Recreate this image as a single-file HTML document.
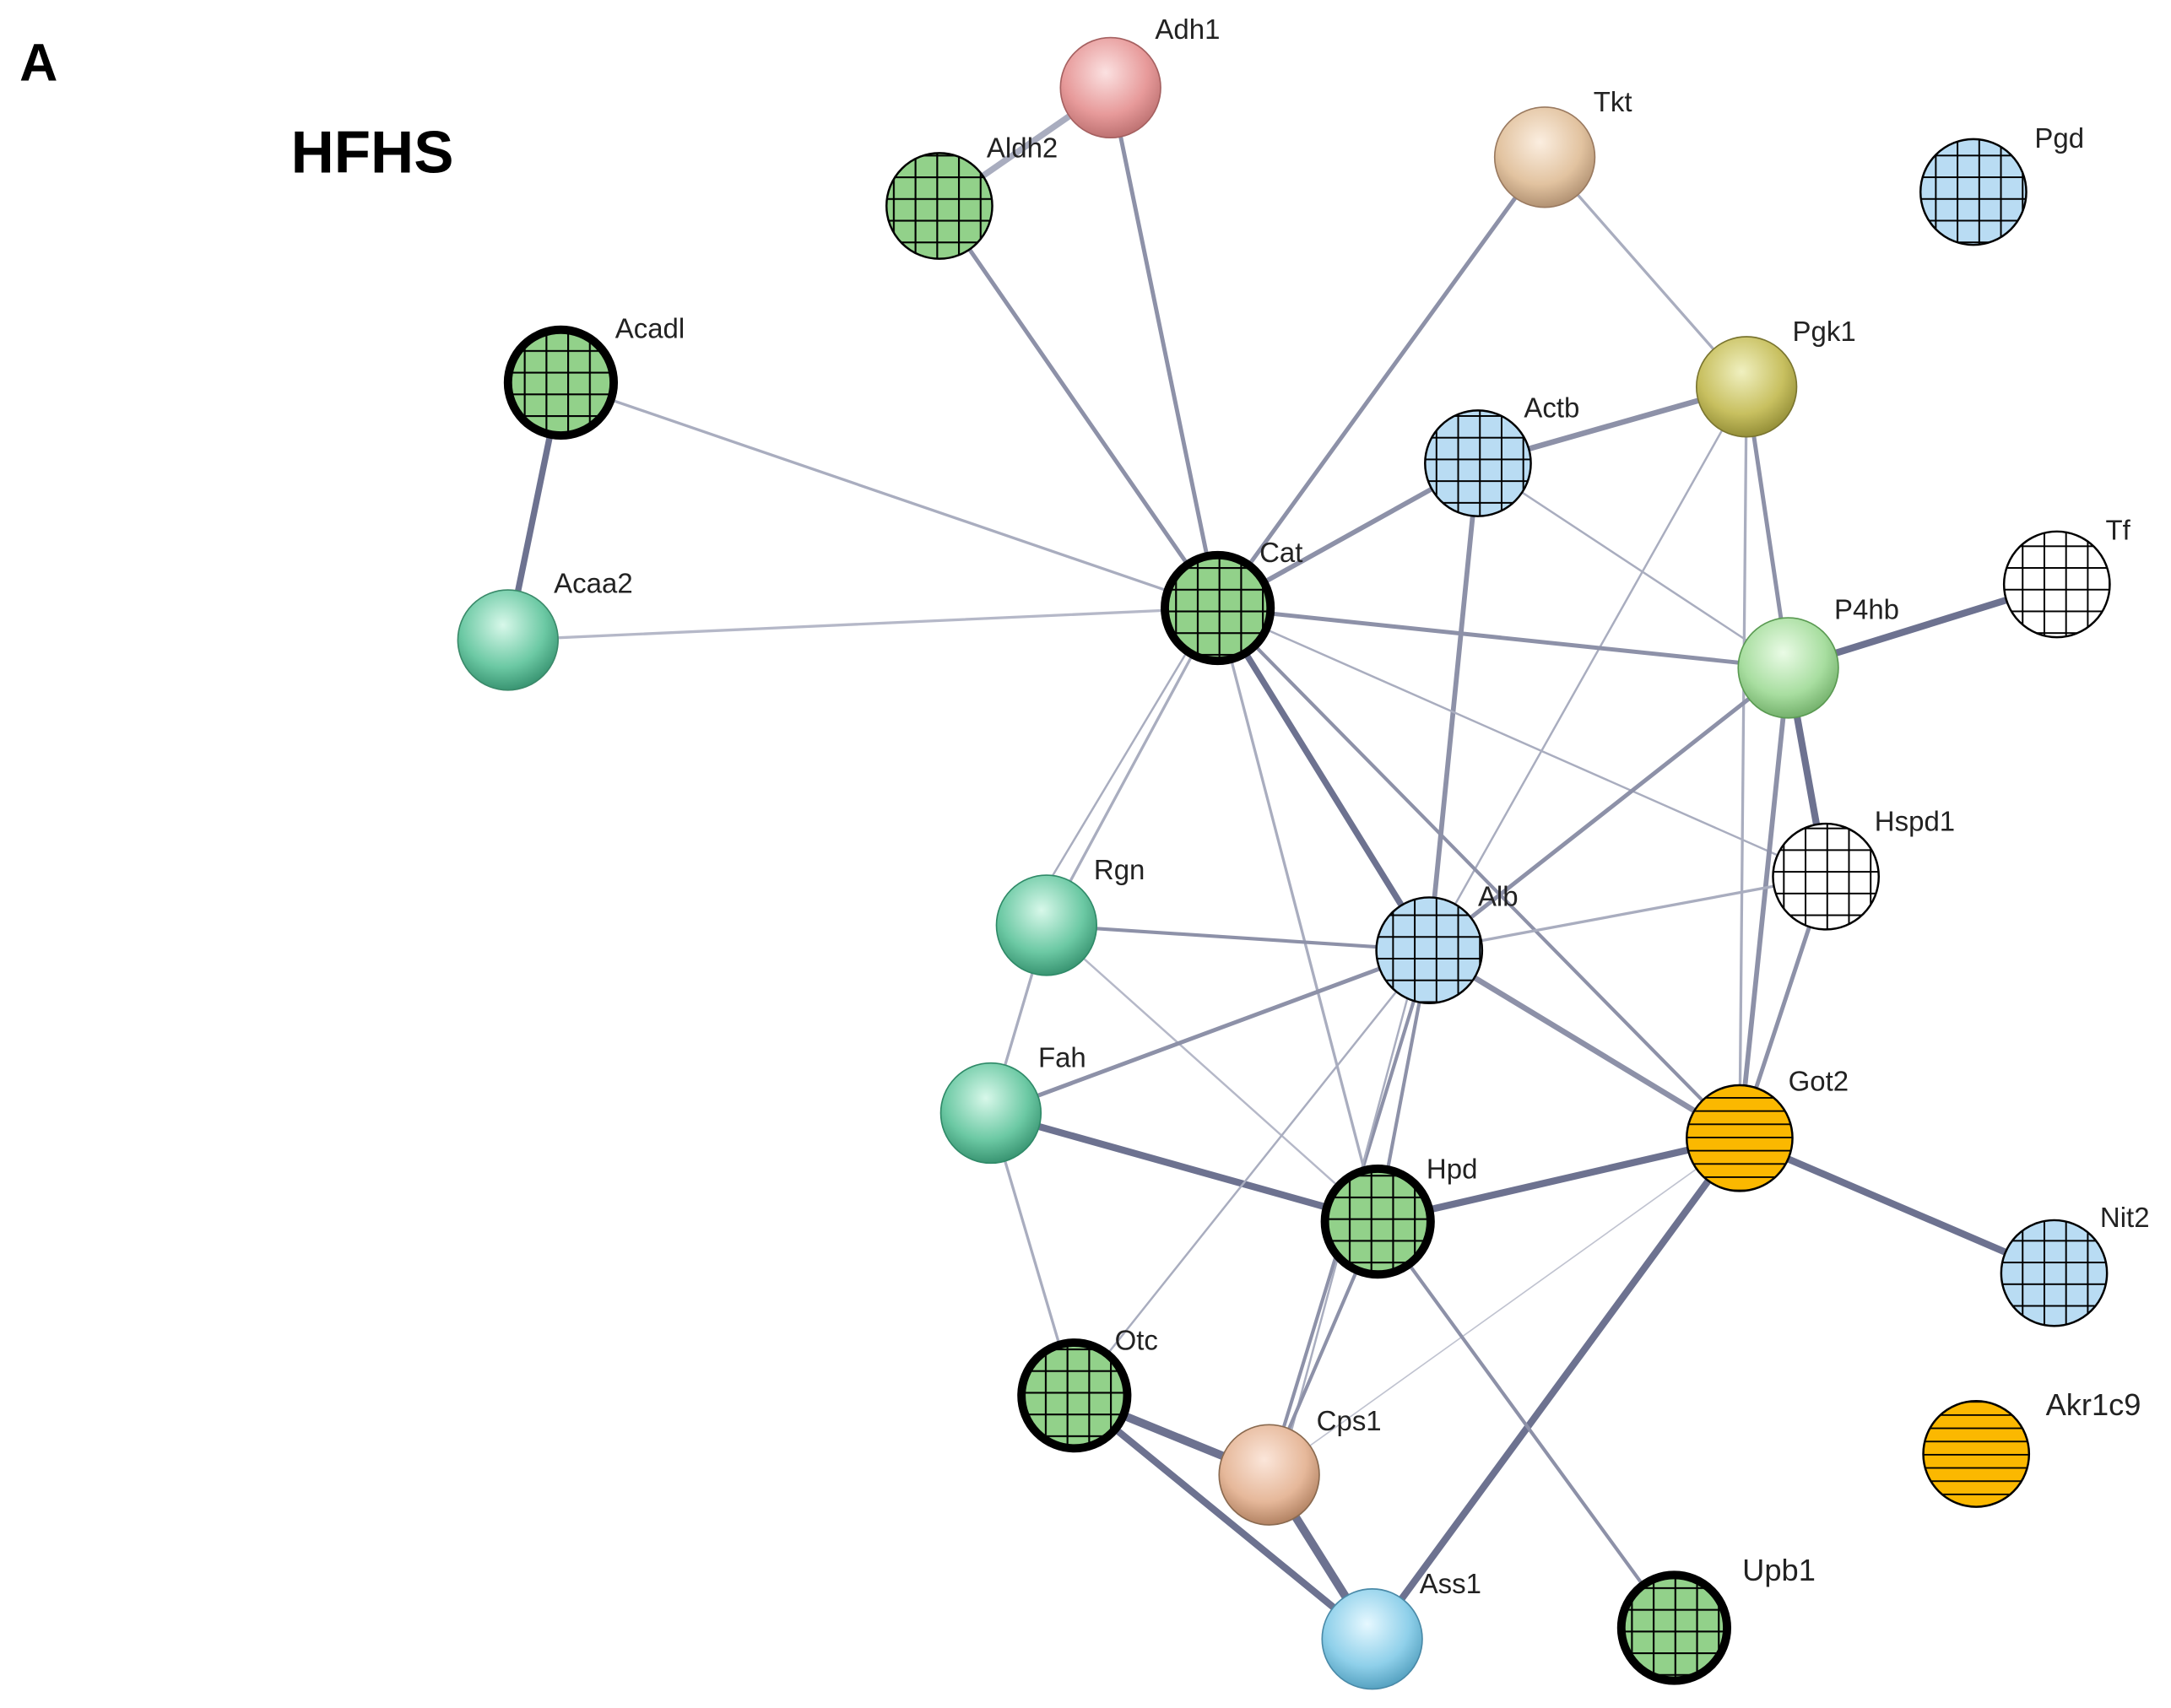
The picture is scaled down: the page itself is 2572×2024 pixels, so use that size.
<!DOCTYPE html>
<html><head><meta charset="utf-8"><style>
html,body{margin:0;padding:0;background:#fff;}
svg{display:block;}
text{font-family:"Liberation Sans",Arial,sans-serif;fill:#222;}
</style></head><body>
<svg width="2572" height="2024" viewBox="0 0 1560 1227.6" preserveAspectRatio="none" xmlns="http://www.w3.org/2000/svg">
<defs>
<pattern id="gG" patternUnits="userSpaceOnUse" width="15.6" height="15.6" x="2" y="2"><rect width="15.6" height="15.6" fill="#92d18a"/><path d="M0 0H15.6M0 0V15.6" stroke="#000" stroke-width="2.6"/></pattern>
<pattern id="gB" patternUnits="userSpaceOnUse" width="15.6" height="15.6" x="2" y="2"><rect width="15.6" height="15.6" fill="#b9dcf3"/><path d="M0 0H15.6M0 0V15.6" stroke="#000" stroke-width="2.4"/></pattern>
<pattern id="gW" patternUnits="userSpaceOnUse" width="15.6" height="15.6" x="2" y="2"><rect width="15.6" height="15.6" fill="#fff"/><path d="M0 0H15.6M0 0V15.6" stroke="#000" stroke-width="2.4"/></pattern>
<pattern id="sO" patternUnits="userSpaceOnUse" width="10" height="9.5"><rect width="10" height="9.5" fill="#fbb800"/><path d="M0 0H10" stroke="#000" stroke-width="2.2"/></pattern>
<radialGradient id="bPink" cx="0.45" cy="0.35" r="0.7"><stop offset="0" stop-color="#fbe1e1"/><stop offset="0.6" stop-color="#e79a9a"/><stop offset="1" stop-color="#b56a6a"/></radialGradient>
<radialGradient id="bTan" cx="0.45" cy="0.35" r="0.7"><stop offset="0" stop-color="#fbeee0"/><stop offset="0.6" stop-color="#e2c3a0"/><stop offset="1" stop-color="#a8886a"/></radialGradient>
<radialGradient id="bOlive" cx="0.45" cy="0.35" r="0.7"><stop offset="0" stop-color="#f0f0c0"/><stop offset="0.6" stop-color="#c8c060"/><stop offset="1" stop-color="#8a8530"/></radialGradient>
<radialGradient id="bLG" cx="0.45" cy="0.35" r="0.7"><stop offset="0" stop-color="#eafbe6"/><stop offset="0.6" stop-color="#a8dea0"/><stop offset="1" stop-color="#6aa862"/></radialGradient>
<radialGradient id="bTeal" cx="0.45" cy="0.35" r="0.7"><stop offset="0" stop-color="#d8f8ea"/><stop offset="0.6" stop-color="#6cc9a4"/><stop offset="1" stop-color="#2f8a68"/></radialGradient>
<radialGradient id="bCyan" cx="0.45" cy="0.35" r="0.7"><stop offset="0" stop-color="#e6f8ff"/><stop offset="0.6" stop-color="#8fd0ea"/><stop offset="1" stop-color="#4a98b8"/></radialGradient>
<radialGradient id="bSal" cx="0.45" cy="0.35" r="0.7"><stop offset="0" stop-color="#fbe6da"/><stop offset="0.6" stop-color="#e6b89a"/><stop offset="1" stop-color="#a87858"/></radialGradient>
</defs>

<text x="14" y="58" font-size="38" font-weight="bold" style="fill:#000">A</text>
<text x="209" y="124" font-size="43" font-weight="bold" style="fill:#000">HFHS</text>

<g stroke="#8d91a8" stroke-linecap="round" fill="none">
<line x1="798" y1="63" x2="675" y2="148" stroke-width="4.5" stroke="#a9adbf"/>
<line x1="798" y1="63" x2="875" y2="437" stroke-width="3"/>
<line x1="675" y1="148" x2="875" y2="437" stroke-width="3"/>
<line x1="1110" y1="113" x2="875" y2="437" stroke-width="3"/>
<line x1="1110" y1="113" x2="1255" y2="278" stroke-width="2" stroke="#a9adbf"/>
<line x1="403" y1="275" x2="365" y2="460" stroke-width="4.5" stroke="#6d7290"/>
<line x1="403" y1="275" x2="875" y2="437" stroke-width="2" stroke="#a9adbf"/>
<line x1="365" y1="460" x2="875" y2="437" stroke-width="2" stroke="#b5b8c8"/>
<line x1="1255" y1="278" x2="1062" y2="333" stroke-width="4"/>
<line x1="1062" y1="333" x2="875" y2="437" stroke-width="3.5"/>
<line x1="1062" y1="333" x2="1027" y2="683" stroke-width="3.5"/>
<line x1="1062" y1="333" x2="1285" y2="480" stroke-width="1.5" stroke="#a9adbf"/>
<line x1="1255" y1="278" x2="1027" y2="683" stroke-width="1.5" stroke="#a9adbf"/>
<line x1="1255" y1="278" x2="1285" y2="480" stroke-width="3"/>
<line x1="1255" y1="278" x2="1250" y2="818" stroke-width="2" stroke="#a9adbf"/>
<line x1="875" y1="437" x2="1285" y2="480" stroke-width="3"/>
<line x1="875" y1="437" x2="1312" y2="630" stroke-width="1.5" stroke="#a9adbf"/>
<line x1="875" y1="437" x2="1027" y2="683" stroke-width="4.5" stroke="#6d7290"/>
<line x1="875" y1="437" x2="1250" y2="818" stroke-width="2.5"/>
<line x1="875" y1="437" x2="752" y2="665" stroke-width="2" stroke="#a9adbf"/>
<line x1="870" y1="440" x2="738" y2="660" stroke-width="1.5" stroke="#a9adbf"/>
<line x1="875" y1="437" x2="990" y2="878" stroke-width="2" stroke="#a9adbf"/>
<line x1="1285" y1="480" x2="1478" y2="420" stroke-width="5" stroke="#6d7290"/>
<line x1="1285" y1="480" x2="1312" y2="630" stroke-width="5" stroke="#6d7290"/>
<line x1="1285" y1="480" x2="1250" y2="818" stroke-width="3.5"/>
<line x1="1285" y1="480" x2="1027" y2="683" stroke-width="3"/>
<line x1="1312" y1="630" x2="1027" y2="683" stroke-width="2" stroke="#a9adbf"/>
<line x1="1312" y1="630" x2="1250" y2="818" stroke-width="3"/>
<line x1="752" y1="665" x2="1027" y2="683" stroke-width="2.5"/>
<line x1="752" y1="665" x2="712" y2="800" stroke-width="2" stroke="#a9adbf"/>
<line x1="752" y1="665" x2="990" y2="878" stroke-width="1.5" stroke="#b5b8c8"/>
<line x1="712" y1="800" x2="1027" y2="683" stroke-width="3"/>
<line x1="712" y1="800" x2="990" y2="878" stroke-width="5" stroke="#6d7290"/>
<line x1="712" y1="800" x2="772" y2="1003" stroke-width="2" stroke="#a9adbf"/>
<line x1="1027" y1="683" x2="1250" y2="818" stroke-width="4"/>
<line x1="1027" y1="683" x2="990" y2="878" stroke-width="2.5"/>
<line x1="1027" y1="683" x2="912" y2="1060" stroke-width="2.5"/>
<line x1="1020" y1="685" x2="920" y2="1058" stroke-width="1.5" stroke="#a9adbf"/>
<line x1="1027" y1="683" x2="772" y2="1003" stroke-width="1.5" stroke="#a9adbf"/>
<line x1="1250" y1="818" x2="990" y2="878" stroke-width="5" stroke="#6d7290"/>
<line x1="1250" y1="818" x2="1476" y2="915" stroke-width="5" stroke="#6d7290"/>
<line x1="1250" y1="818" x2="986" y2="1178" stroke-width="5" stroke="#6d7290"/>
<line x1="1250" y1="818" x2="912" y2="1060" stroke-width="1" stroke="#c0c3d0"/>
<line x1="990" y1="878" x2="912" y2="1060" stroke-width="2.5"/>
<line x1="990" y1="878" x2="1203" y2="1170" stroke-width="2.5"/>
<line x1="772" y1="1003" x2="912" y2="1060" stroke-width="6" stroke="#6d7290"/>
<line x1="772" y1="1003" x2="986" y2="1178" stroke-width="5" stroke="#6d7290"/>
<line x1="912" y1="1060" x2="986" y2="1178" stroke-width="6" stroke="#6d7290"/>
</g>

<g>
<circle cx="798" cy="63" r="36" fill="url(#bPink)" stroke="#a56060" stroke-width="1"/>
<circle cx="1110" cy="113" r="36" fill="url(#bTan)" stroke="#9a7a60" stroke-width="1"/>
<circle cx="1255" cy="278" r="36" fill="url(#bOlive)" stroke="#7a7530" stroke-width="1"/>
<circle cx="365" cy="460" r="36" fill="url(#bTeal)" stroke="#3a8a6a" stroke-width="1"/>
<circle cx="1285" cy="480" r="36" fill="url(#bLG)" stroke="#5a9a52" stroke-width="1"/>
<circle cx="752" cy="665" r="36" fill="url(#bTeal)" stroke="#2f8a68" stroke-width="1"/>
<circle cx="712" cy="800" r="36" fill="url(#bTeal)" stroke="#2f8a68" stroke-width="1"/>
<circle cx="912" cy="1060" r="36" fill="url(#bSal)" stroke="#8a6a50" stroke-width="1"/>
<circle cx="986" cy="1178" r="36" fill="url(#bCyan)" stroke="#4a8aa8" stroke-width="1"/>
</g>

<g>
<circle cx="675" cy="148" r="38" fill="url(#gG)" stroke="#000" stroke-width="1.5"/>
<circle cx="1418" cy="138" r="38" fill="url(#gB)" stroke="#000" stroke-width="1.5"/>
<circle cx="403" cy="275" r="38" fill="url(#gG)" stroke="#000" stroke-width="6"/>
<circle cx="1062" cy="333" r="38" fill="url(#gB)" stroke="#000" stroke-width="1.5"/>
<circle cx="875" cy="437" r="38" fill="url(#gG)" stroke="#000" stroke-width="6"/>
<circle cx="1478" cy="420" r="38" fill="url(#gW)" stroke="#000" stroke-width="1.5"/>
<circle cx="1312" cy="630" r="38" fill="url(#gW)" stroke="#000" stroke-width="1.5"/>
<circle cx="1027" cy="683" r="38" fill="url(#gB)" stroke="#000" stroke-width="1.5"/>
<circle cx="1250" cy="818" r="38" fill="url(#sO)" stroke="#000" stroke-width="1.5"/>
<circle cx="990" cy="878" r="38" fill="url(#gG)" stroke="#000" stroke-width="6"/>
<circle cx="1476" cy="915" r="38" fill="url(#gB)" stroke="#000" stroke-width="1.5"/>
<circle cx="772" cy="1003" r="38" fill="url(#gG)" stroke="#000" stroke-width="6"/>
<circle cx="1420" cy="1045" r="38" fill="url(#sO)" stroke="#000" stroke-width="1.5"/>
<circle cx="1203" cy="1170" r="38" fill="url(#gG)" stroke="#000" stroke-width="6"/>
</g>

<g font-size="20">
<text x="830" y="28">Adh1</text>
<text x="709" y="113">Aldh2</text>
<text x="1145" y="80">Tkt</text>
<text x="1462" y="106">Pgd</text>
<text x="442" y="243">Acadl</text>
<text x="1288" y="245">Pgk1</text>
<text x="1095" y="300">Actb</text>
<text x="398" y="426">Acaa2</text>
<text x="905" y="404">Cat</text>
<text x="1513" y="388">Tf</text>
<text x="1318" y="445">P4hb</text>
<text x="1347" y="597">Hspd1</text>
<text x="786" y="632">Rgn</text>
<text x="1062" y="651">Alb</text>
<text x="746" y="767">Fah</text>
<text x="1285" y="784">Got2</text>
<text x="1025" y="847">Hpd</text>
<text x="1509" y="882">Nit2</text>
<text x="801" y="970">Otc</text>
<text x="946" y="1028">Cps1</text>
<text x="1470" y="1017" font-size="22">Akr1c9</text>
<text x="1020" y="1145">Ass1</text>
<text x="1252" y="1136" font-size="22">Upb1</text>
</g>
</svg>
</body></html>
